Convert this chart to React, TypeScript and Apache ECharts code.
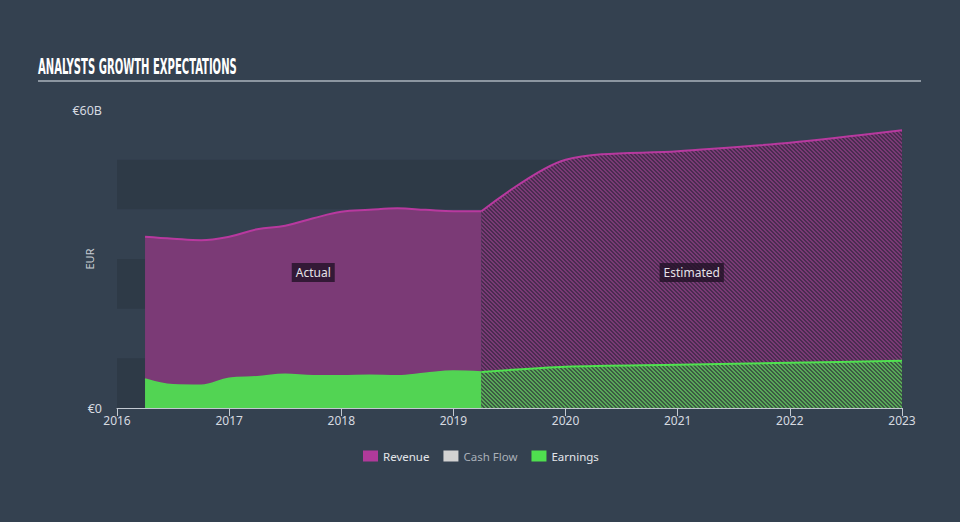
import React, { useEffect, useRef } from "react";
import * as echarts from "echarts";

const titleText = "ANALYSTS GROWTH EXPECTATIONS";
const yAxisName = "EUR";
const legendNames = ["Revenue", "Cash Flow", "Earnings"];

const actualTimes = [2016.25, 2016.5, 2016.75, 2017.0, 2017.25, 2017.5, 2017.75, 2018.0, 2018.25, 2018.5, 2018.75, 2019.0, 2019.25];
const revenueActual = [34.5, 34.1, 33.8, 34.5, 36.0, 36.7, 38.2, 39.5, 39.9, 40.2, 39.9, 39.6, 39.6];
const earningsActual = [5.85, 4.7, 4.6, 6.0, 6.3, 6.8, 6.5, 6.5, 6.6, 6.5, 7.0, 7.45, 7.25];

const estimateTimes = [2019.25, 2020.0, 2021.0, 2022.0, 2023.0];
const revenueEstimate = [39.6, 50.0, 51.7, 53.4, 55.9];
const earningsEstimate = [7.25, 8.3, 8.7, 9.1, 9.5];

const xTicks = [2016, 2017, 2018, 2019, 2020, 2021, 2022, 2023];

const pairs = (xs: number[], ys: number[]) => xs.map((x, i) => [x, ys[i]]);

function hatch(bg: string, fg: string) {
  const c = document.createElement("canvas");
  c.width = 4;
  c.height = 4;
  const ctx = c.getContext("2d")!;
  ctx.fillStyle = bg;
  ctx.fillRect(0, 0, 4, 4);
  ctx.fillStyle = fg;
  for (let i = 0; i < 4; i++) {
    ctx.fillRect(i, i, 1, 1);
    ctx.fillRect((i + 1) % 4, i, 1, 1);
  }
  return c;
}

export default function App() {
  const ref = useRef<HTMLDivElement>(null);
  useEffect(() => {
    if (!ref.current) return;
    const chart = echarts.init(ref.current, null, { renderer: "svg" });
    const labelFont = "Noto Sans";
    const revLine = "#b8399f";
    const revFill = "#7b3a76";
    const earnLine = "#4fe24f";
    const earnFill = "#52d453";

    const option: any = {
      animation: false,
      backgroundColor: "#344150",
      textStyle: { fontFamily: labelFont },
      grid: { left: 117, right: 58, top: 110, bottom: 114 },
      legend: {
        left: 358,
        top: 445,
        icon: "rect",
        itemWidth: 15,
        itemHeight: 11,
        itemGap: 14,
        textStyle: { color: "#e4e6ea", fontSize: 11.5, fontFamily: labelFont },
        data: [
          { name: legendNames[0], itemStyle: { color: "#b03a9a" } },
          { name: legendNames[1], itemStyle: { color: "#d2d2d2" }, textStyle: { color: "#a9b0b8" } },
          { name: legendNames[2], itemStyle: { color: "#4fe04f" } },
        ],
      },
      xAxis: {
        type: "value",
        min: xTicks[0],
        max: xTicks[xTicks.length - 1],
        interval: 1,
        axisLine: { show: true, lineStyle: { color: "#c3c9d1", width: 1 } },
        axisTick: { show: true, length: 8, lineStyle: { color: "#c3c9d1" } },
        axisLabel: { color: "#d6dae0", fontSize: 12, margin: 6, formatter: (v: number) => String(v) },
        splitLine: { show: false },
      },
      yAxis: {
        type: "value",
        min: 0,
        max: 60,
        interval: 10,
        name: yAxisName,
        nameLocation: "middle",
        nameGap: 22,
        nameMoveOverlap: false,
        nameTextStyle: { color: "#c8cdd3", fontSize: 11 },
        axisLine: { show: false },
        axisTick: { show: false },
        axisLabel: {
          color: "#d6dae0",
          fontSize: 12.5,
          margin: 15,
          formatter: (v: number) => (v === 0 ? "€0" : v === 60 ? "€60B" : ""),
        },
        splitLine: { show: false },
        splitArea: { show: true, areaStyle: { color: ["#2e3a47", "rgba(0,0,0,0)"] } },
      },
      series: [
        {
          name: "Revenue",
          type: "line",
          data: pairs(actualTimes, revenueActual),
          smooth: 0.4,
          symbol: "none",
          color: revLine,
          lineStyle: { color: revLine, width: 2 },
          areaStyle: { color: revFill, opacity: 1 },
          z: 2,
        },
        {
          name: "Revenue",
          type: "line",
          data: pairs(estimateTimes, revenueEstimate),
          smooth: 0.3,
          symbol: "none",
          color: revLine,
          lineStyle: { color: revLine, width: 2 },
          areaStyle: { color: { image: hatch("#7a3a75", "#4a2c50"), repeat: "repeat" }, opacity: 1 },
          z: 2,
        },
        {
          name: "Cash Flow",
          type: "line",
          data: [],
          symbol: "none",
          color: "#d2d2d2",
        },
        {
          name: "Earnings",
          type: "line",
          data: pairs(actualTimes, earningsActual),
          smooth: 0.4,
          symbol: "none",
          color: earnLine,
          lineStyle: { color: earnFill, width: 1.5 },
          areaStyle: { color: earnFill, opacity: 1 },
          z: 3,
        },
        {
          name: "Earnings",
          type: "line",
          data: pairs(estimateTimes, earningsEstimate),
          smooth: 0.3,
          symbol: "none",
          color: earnLine,
          lineStyle: { color: earnLine, width: 2 },
          areaStyle: { color: { image: hatch("#58a858", "#3c5a43"), repeat: "repeat" }, opacity: 1 },
          z: 3,
        },
      ],
    };
    chart.setOption(option);

    // title scaling
    const titleFont = "bold 21px 'DejaVu Sans Condensed', 'DejaVu Sans', sans-serif";
    const mctx = document.createElement("canvas").getContext("2d")!;
    mctx.font = titleFont;
    const tw = mctx.measureText(titleText).width || 199;
    const sx = 199 / tw;

    const midA = (actualTimes[0] + actualTimes[actualTimes.length - 1]) / 2;
    const midE = (estimateTimes[0] + estimateTimes[estimateTimes.length - 1]) / 2;
    const pA = chart.convertToPixel({ xAxisIndex: 0, yAxisIndex: 0 }, [midA, 27.3]) as number[];
    const pE = chart.convertToPixel({ xAxisIndex: 0, yAxisIndex: 0 }, [midE, 27.3]) as number[];

    const tag = (text: string, p: number[]) => ({
      type: "text",
      x: p[0],
      y: p[1],
      z: 100,
      style: {
        text,
        fill: "#e6e2e8",
        font: `12px '${labelFont}'`,
        align: "center",
        verticalAlign: "middle",
        backgroundColor: "rgba(35,18,40,0.82)",
        padding: [4, 4, 3, 4],
      },
    });

    chart.setOption({
      graphic: [
        {
          type: "text",
          x: 38,
          y: 56,
          scaleX: sx,
          style: { text: titleText, fill: "#ffffff", font: titleFont },
        },
        {
          type: "line",
          shape: { x1: 38, y1: 81, x2: 921, y2: 81 },
          style: { stroke: "#aab3bc", lineWidth: 1.5 },
        },
        tag("Actual", pA),
        tag("Estimated", pE),
      ],
    });

    return () => chart.dispose();
  }, []);

  return (
    <div
      ref={ref}
      style={{ position: "fixed", left: 0, top: 0, width: 960, height: 522 }}
    />
  );
}
